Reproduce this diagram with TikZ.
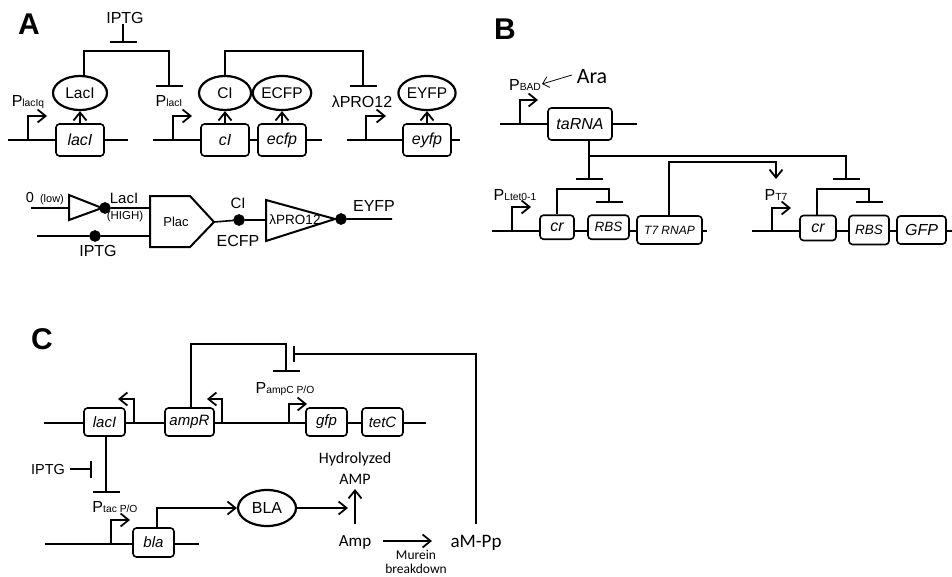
\documentclass[tikz,border=0pt]{standalone}
\usepackage{fontspec}
\setmainfont{Liberation Sans}
\newfontfamily\carl{Carlito}
\usetikzlibrary{positioning,calc,arrows.meta}
\def\prm#1#2{#1\raisebox{-0.5pt}{\fontsize{10.3}{10.3}\selectfont #2}}
\tikzset{gene/.style={draw,fill=white,rounded corners=3.5pt,line width=1.6pt,inner sep=0pt,font=\fontsize{16}{16}\selectfont\itshape}}
\tikzset{prot/.style={draw,ellipse,line width=2.2pt,inner sep=0pt,font=\fontsize{15.5}{15.5}\selectfont}}
\tikzset{lab/.style={inner sep=0pt,font=\fontsize{16}{16}\selectfont}}
\tikzset{clab/.style={inner sep=0pt,font=\fontsize{17}{17}\selectfont\carl}}
\tikzset{panel/.style={inner sep=0pt,font=\fontsize{30}{30}\selectfont\bfseries}}
\tikzset{dot/.style={draw,circle,fill=black,minimum size=10pt,inner sep=0pt}}
\tikzset{>={Straight Barb[length=8pt,width=13pt,line width=1.8pt]}}
\tikzset{rep/.style={-{Bar[width=27pt,line width=2pt]}}}
\usetikzlibrary{shapes.geometric}

\begin{document}
\begin{tikzpicture}[x=1pt,y=-1pt,line width=1.6pt]
	\useasboundingbox (0,0) rectangle (952,576);
	% panel A, genes
	\node[panel] (A) at (29,24) {A};
	\node[lab] (iptga) at (125,18) {IPTG};
	\node[lab] (placiq) at (28,102) {\prm{P}{lacIq}};
	\node[lab] (placi) at (169,101) {\prm{P}{lacI}};
	\node[lab] (lpro) at (362,102) {λPRO12};
	\node[gene,minimum width=48pt,minimum height=32pt] (laci) at (80,140) {lacI};
	\node[gene,minimum width=48pt,minimum height=32pt] (ci) at (225,140) {cI};
	\node[gene,minimum width=48pt,minimum height=32pt] (ecfp) at (282,140) {ecfp};
	\node[gene,minimum width=48pt,minimum height=32pt] (eyfp) at (427,140) {eyfp};
	\node[prot,minimum width=54pt,minimum height=34pt] (LacI) at (80,93) {LacI};
	\node[prot,minimum width=52pt,minimum height=34pt] (CI) at (225,93) {CI};
	\node[prot,minimum width=54pt,minimum height=34pt] (ECFP) at (282,93) {ECFP};
	\node[prot,minimum width=52pt,minimum height=34pt] (EYFP) at (427,93) {EYFP};
	\coordinate (a1) at (8,140);
	\coordinate (a2) at (128,140);
	\coordinate (a3) at (153,140);
	\coordinate (a4) at (322,140);
	\coordinate (a5) at (347,140);
	\coordinate (a6) at (460,140);
	\coordinate (pa1) at (28,140);
	\coordinate (pa2) at (173,140);
	\coordinate (pa3) at (366,140);
	\coordinate (ta1) at (47,116);
	\coordinate (ta2) at (192,116);
	\coordinate (ta3) at (386,116);
	\coordinate (ra1) at (123,43);
	\coordinate (ra2) at (169,87);
	\coordinate (ra3) at (363,87);
	\coordinate (ja1) at (84,51);
	\coordinate (ja2) at (225,51);
	\coordinate (ia1) at (123,24);
	\draw[-] (a1) -- (laci) -- (a2) (a3) -- (ci) -- (ecfp) -- (a4) (a5) -- (eyfp) -- (a6);
	\draw[->] (pa1) |- (ta1);
	\draw[->] (pa2) |- (ta2);
	\draw[->] (pa3) |- (ta3);
	\draw[->] (laci.north) -- (LacI.south);
	\draw[->] (ci.north) -- (CI.south);
	\draw[->] (ecfp.north) -- (ECFP.south);
	\draw[->] (eyfp.north) -- (EYFP.south);
	\draw[rep] (ia1) -- (ra1);
	\draw[rep] (ja1 |- LacI.north) -- (ja1) -| (ra2);
	\draw[rep] (CI.north) -- (ja2) -| (ra3);
	% panel A, logic gates
	\node[lab,font=\fontsize{14.5}{14.5}\selectfont] (zero) at (30,198) {0};
	\node[lab,font=\fontsize{11}{11}\selectfont] (low) at (52,200) {(low)};
	\node[lab,font=\fontsize{15}{15}\selectfont] (lacilab) at (124,198) {LacI};
	\node[lab,font=\fontsize{11.5}{11.5}\selectfont] (high) at (125,217) {(HIGH)};
	\node[lab] (iptgb) at (98,251) {IPTG};
	\node[lab,font=\fontsize{13}{13}\selectfont] (plac) at (176,222) {Plac};
	\node[lab,font=\fontsize{15}{15}\selectfont] (cilab) at (238,203) {CI};
	\node[lab] (ecfplab) at (238,241) {ECFP};
	\node[lab,font=\fontsize{13.5}{13.5}\selectfont] (lprob) at (295,220) {λPRO12};
	\node[lab] (eyfplab) at (374,206) {EYFP};
	\coordinate (b1) at (31,208);
	\coordinate (b2) at (69,208);
	\coordinate (b3) at (150,208);
	\coordinate (b4) at (37,236);
	\coordinate (b5) at (150,236);
	\coordinate (b6) at (214,222);
	\coordinate (b7) at (266,220);
	\coordinate (b8) at (392,219);
	\node[dot] (d1) at (105,208) {};
	\node[dot] (d2) at (95,236) {};
	\node[dot] (d3) at (239,220) {};
	\node[dot] (d4) at (341,219) {};
	\draw[line width=2pt] (69,195) -- (69,220) -- (102,208) -- cycle;
	\draw[line width=2pt] (150,196) -- (190,196) -- (b6) -- (190,247) -- (150,247) -- cycle;
	\draw[line width=2pt] (266,200) -- (266,241) -- (335,219) -- cycle;
	\draw[-] (b1) -- (b2) (d1) -- (b3) (b4) -- (d2) -- (b5) (b6) -- (d3) -- (b7) (d4) -- (b8);
	% panel B
	\node[panel] (B) at (505,29) {B};
	\node[clab,font=\fontsize{22}{22}\selectfont\carl] (ara) at (592,77) {Ara};
	\node[lab] (pbad) at (525,85) {\prm{P}{BAD}};
	\node[lab] (pltet) at (515,195) {\prm{P}{Ltet0-1}};
	\node[lab] (pt7) at (776,195) {\prm{P}{T7}};
	\node[gene,minimum width=64pt,minimum height=32pt] (tarna) at (580,124) {taRNA};
	\node[gene,minimum width=34pt,minimum height=24pt,anchor=south] (cra) at (557,240) {cr};
	\node[gene,minimum width=41pt,minimum height=24pt,anchor=south,font=\fontsize{13.5}{13.5}\selectfont\itshape] (rbsa) at (608.5,240) {RBS};
	\node[gene,minimum width=65pt,minimum height=28pt,font=\fontsize{12}{12}\selectfont\itshape] (t7) at (669.5,230) {T7 RNAP};
	\node[gene,minimum width=36pt,minimum height=25pt] (crb) at (818,228) {cr};
	\node[gene,minimum width=40pt,minimum height=29pt,font=\fontsize{13.5}{13.5}\selectfont\itshape] (rbsb) at (869,230) {RBS};
	\node[gene,minimum width=49pt,minimum height=28pt] (gfpb) at (921.5,230) {GFP};
	\coordinate (c1) at (500,124);
	\coordinate (c2) at (637,124);
	\coordinate (c3) at (492,231);
	\coordinate (c4) at (707,231);
	\coordinate (c5) at (752,231);
	\coordinate (c6) at (952,231);
	\coordinate (pb1) at (520,124);
	\coordinate (pb2) at (512,231);
	\coordinate (pb3) at (772,231);
	\coordinate (tb1) at (538,100);
	\coordinate (tb2) at (531,207);
	\coordinate (tb3) at (791,208);
	\coordinate (ja) at (589,140);
	\coordinate (jb) at (589,156);
	\coordinate (rb1) at (589,180);
	\coordinate (rb2) at (846,180);
	\coordinate (rb3) at (609,203);
	\coordinate (rb4) at (869,203);
	\coordinate (jc) at (557,189);
	\coordinate (jd) at (817,189);
	\coordinate (je) at (669,162);
	\coordinate (ab) at (776,179);
	\coordinate (ara1) at (572,75);
	\coordinate (ara2) at (542,84);
	\draw[-] (c1) -- (tarna) -- (c2) (c3) -- (cra.west |- c3) (cra.east |- c3) -- (rbsa.west |- c3) (rbsa.east |- c3) -- (t7.west |- c3) (t7.east |- c3) -- (c4);
	\draw[-] (c5) -- (crb.west |- c5) (crb.east |- c5) -- (rbsb.west |- c5) (rbsb.east |- c5) -- (gfpb.west |- c5) (gfpb.east |- c5) -- (c6);
	\draw[->] (pb1) |- (tb1);
	\draw[->] (pb2) |- (tb2);
	\draw[->] (pb3) |- (tb3);
	\draw[rep] (ja) -- (rb1);
	\draw[rep] (jb) -| (rb2);
	\draw[rep] (jc |- cra.north) -- (jc) -| (rb3);
	\draw[rep] (jd |- crb.north) -- (jd) -| (rb4);
	\draw[->] (je |- t7.north) -- (je) -| (ab);
	\draw[-{Straight Barb[length=6pt,width=11pt,line width=0.8pt]},line width=0.8pt] (ara1) -- (ara2);
	% panel C
	\node[panel] (C) at (42,339) {C};
	\node[gene,minimum width=41pt,minimum height=28pt,font=\fontsize{15}{15}\selectfont\itshape] (lacic) at (104.5,422) {lacI};
	\node[gene,minimum width=49pt,minimum height=28pt,font=\fontsize{15}{15}\selectfont\itshape] (ampr) at (189.5,422) {ampR};
	\node[gene,minimum width=41pt,minimum height=28pt,font=\fontsize{15}{15}\selectfont\itshape] (gfpc) at (326.5,422) {gfp};
	\node[gene,minimum width=41pt,minimum height=28pt,font=\fontsize{15}{15}\selectfont\itshape] (tetc) at (382.5,422) {tetC};
	\node[gene,minimum width=41pt,minimum height=29pt,font=\fontsize{15}{15}\selectfont\itshape] (bla) at (153.5,542.5) {bla};
	\node[prot,minimum width=58pt,minimum height=36pt,font=\fontsize{16}{16}\selectfont] (BLA) at (267,508) {BLA};
	\node[lab] (pampc) at (285,389) {\prm{P}{ampC P/O}};
	\node[lab] (ptac) at (115,507) {\prm{P}{tac P/O}};
	\node[lab,font=\fontsize{14.5}{14.5}\selectfont] (iptgc) at (48,469) {IPTG};
	\node[clab,font=\fontsize{16}{16}\selectfont\carl] (hydro) at (355,459) {Hydrolyzed};
	\node[clab,font=\fontsize{16}{16}\selectfont\carl] (hamp) at (355,479) {AMP};
	\node[clab] (amp) at (355,542) {Amp};
	\node[clab,font=\fontsize{19}{19}\selectfont\carl] (ampp) at (476,543) {aM-Pp};
	\node[clab,font=\fontsize{13.5}{13.5}\selectfont\carl] (murein) at (416,555) {Murein};
	\node[clab,font=\fontsize{13.5}{13.5}\selectfont\carl] (breakd) at (416,569) {breakdown};
	\coordinate (e1) at (44,423);
	\coordinate (e2) at (426,423);
	\coordinate (e3) at (45,544);
	\coordinate (e4) at (199,544);
	\coordinate (pc1) at (134,423);
	\coordinate (pc2) at (222,423);
	\coordinate (pc3) at (289,423);
	\coordinate (pc4) at (111,544);
	\coordinate (tc1) at (118,399);
	\coordinate (tc2) at (207,399);
	\coordinate (tc3) at (307,404);
	\coordinate (tc4) at (130,520);
	\coordinate (jf) at (191,344);
	\coordinate (rc1) at (286,372);
	\coordinate (jg) at (476,354);
	\coordinate (ji) at (476,524);
	\coordinate (rc2) at (293,354);
	\coordinate (rc3) at (106,493);
	\coordinate (ih) at (70,469);
	\coordinate (rc4) at (92,469);
	\coordinate (jh) at (157,508);
	\coordinate (ai) at (348,508);
	\coordinate (aj) at (355,524);
	\coordinate (ak) at (355,489);
	\coordinate (al) at (383,541);
	\coordinate (am) at (432,541);
	\draw[-] (e1) -- (lacic.west |- e1) (lacic.east |- e1) -- (ampr.west |- e1) (ampr.east |- e1) -- (gfpc.west |- e1) (gfpc.east |- e1) -- (tetc.west |- e1) (tetc.east |- e1) -- (e2);
	\draw[-] (e3) -- (bla.west |- e3) (bla.east |- e3) -- (e4);
	\draw[->] (pc1) |- (tc1);
	\draw[->] (pc2) |- (tc2);
	\draw[->] (pc3) |- (tc3);
	\draw[->] (pc4) |- (tc4);
	\draw[rep] (jf |- ampr.north) -- (jf) -| (rc1);
	\draw[-{Bar[width=16pt,line width=2pt]}] (ji) -- (jg) -- (rc2);
	\draw[rep] (rc3 |- lacic.south) -- (rc3);
	\draw[-{Bar[width=17pt,line width=2pt]}] (ih) -- (rc4);
	\draw[->] (jh |- bla.north) -- (jh) -- (BLA.west);
	\draw[->] (BLA.east) -- (ai);
	\draw[->] (aj) -- (ak);
	\draw[->] (al) -- (am);
\end{tikzpicture}
\end{document}
